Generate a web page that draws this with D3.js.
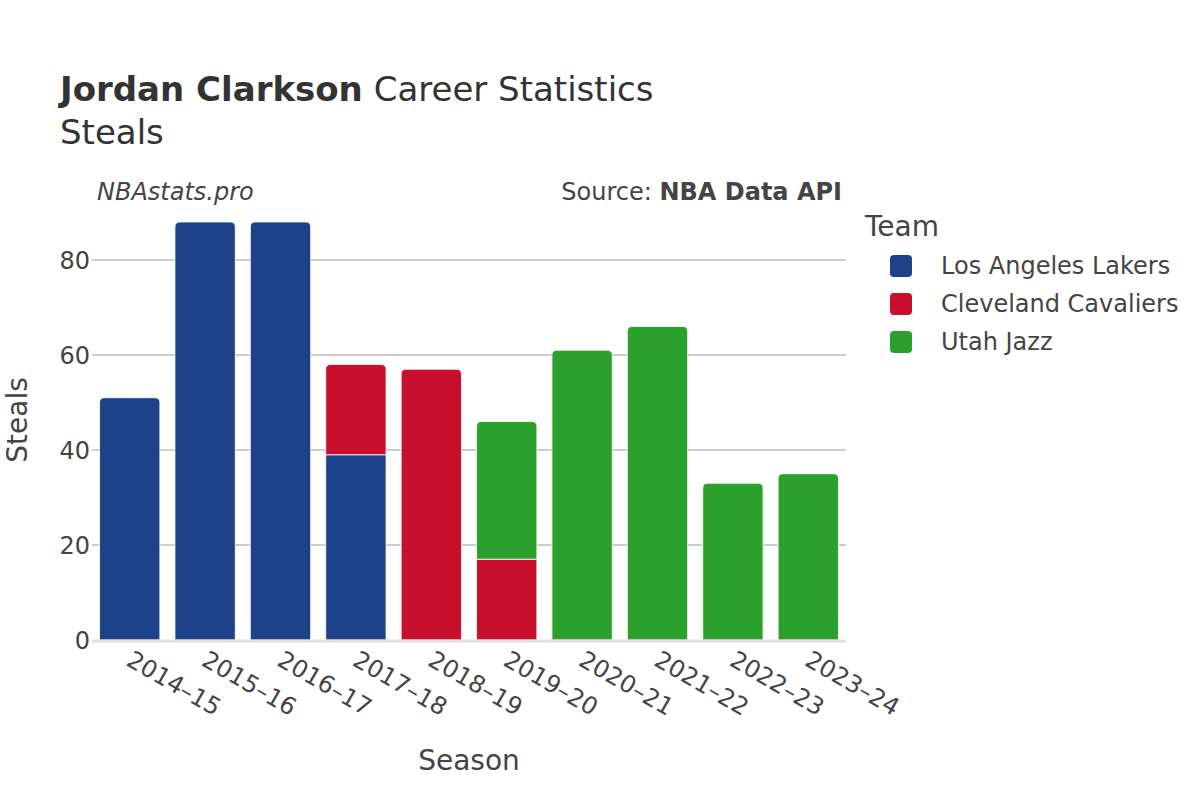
<!DOCTYPE html>
<html><head><meta charset="utf-8">
<script src="https://cdn.jsdelivr.net/npm/d3@7"></script>
<style>body{margin:0;background:#fff}svg{font-family:"DejaVu Sans",sans-serif}</style>
</head><body><svg id="c" width="1200" height="800"></svg>
<script>
const seasons = ["2014–15","2015–16","2016–17","2017–18","2018–19","2019–20","2020–21","2021–22","2022–23","2023–24"];
const teams = ["Los Angeles Lakers","Cleveland Cavaliers","Utah Jazz"];
const teamColors = ["#1d428a","#c8102e","#2ca02c"];
const lakers    = [51, 88, 88, 39, 0, 0, 0, 0, 0, 0];
const cavaliers = [0, 0, 0, 19, 57, 17, 0, 0, 0, 0];
const jazz      = [0, 0, 0, 0, 0, 29, 61, 66, 33, 35];
const yTicks = [0, 20, 40, 60, 80];

const svg = d3.select("#c");
const x = d3.scaleBand().domain(seasons).range([92, 846]).paddingInner(0.2).paddingOuter(0.1);
const y = d3.scaleLinear().domain([0, 92.63]).range([640, 200]);
const color = d3.scaleOrdinal().domain(teams).range(teamColors);

// gridlines
svg.append("g").selectAll("line").data(yTicks.filter(d=>d>0)).join("line")
  .attr("x1", 92).attr("x2", 846).attr("y1", d=>y(d)).attr("y2", d=>y(d))
  .attr("stroke", "#bdbdbd").attr("stroke-width", 1.5);

// stacked data
const rows = seasons.map((s,i)=>({season:s, "Los Angeles Lakers":lakers[i], "Cleveland Cavaliers":cavaliers[i], "Utah Jazz":jazz[i]}));
const stack = d3.stack().keys(teams)(rows);
const r = 5;
function barPath(x0, w, yTop, yBot, rounded){
  if(!rounded) return `M${x0},${yBot}V${yTop}H${x0+w}V${yBot}Z`;
  const rr = Math.min(r, (yBot-yTop));
  return `M${x0},${yBot}V${yTop+rr}Q${x0},${yTop} ${x0+rr},${yTop}H${x0+w-rr}Q${x0+w},${yTop} ${x0+w},${yTop+rr}V${yBot}Z`;
}
const g = svg.append("g");
stack.forEach((layer, li)=>{
  layer.forEach((d, i)=>{
    if(d[1]-d[0] <= 0) return;
    let isTop = true;
    for(let k=li+1;k<stack.length;k++){ if(stack[k][i][1]-stack[k][i][0]>0) isTop=false; }
    g.append("path")
      .attr("d", barPath(x(seasons[i]), x.bandwidth(), y(d[1]), y(d[0]), isTop))
      .attr("fill", color(teams[li]))
      .attr("stroke", "#fff").attr("stroke-width", 0.8);
  });
});

// x axis baseline
svg.append("line").attr("x1", 92).attr("x2", 846).attr("y1", 641).attr("y2", 641)
  .attr("stroke", "#e0e0e0").attr("stroke-width", 3);

// y axis labels
const yAxis = d3.axisLeft(y).tickValues(yTicks).tickSize(0).tickPadding(0);
const ya = svg.append("g").attr("transform","translate(90,0)").call(yAxis);
ya.select(".domain").remove();
ya.selectAll("text").attr("font-size", 24).attr("fill", "#444").attr("font-family","DejaVu Sans, sans-serif").attr("dy","0.35em");

// x axis labels
const xAxis = d3.axisBottom(x).tickSize(0).tickPadding(0);
const xa = svg.append("g").attr("transform","translate(0,650)").call(xAxis);
xa.select(".domain").remove();
xa.selectAll("text").attr("font-size", 24).attr("fill", "#444").attr("font-family","DejaVu Sans, sans-serif")
  .attr("text-anchor","start").attr("dy","0.75em").attr("x", -2).attr("y", 0)
  .attr("transform","translate(6,0) rotate(30)");

// titles
const title = svg.append("text").attr("x", 60).attr("y", 101).attr("font-size", 34).attr("fill", "#333");
title.append("tspan").attr("font-weight","bold").text("Jordan Clarkson");
title.append("tspan").text(" Career Statistics");
svg.append("text").attr("x", 60).attr("y", 144).attr("font-size", 34).attr("fill", "#333").text("Steals");
svg.append("text").attr("x", 97).attr("y", 200).attr("font-size", 24).attr("font-style","italic").attr("fill", "#444").text("NBAstats.pro");
const src = svg.append("text").attr("x", 842).attr("y", 200).attr("font-size", 24).attr("text-anchor","end").attr("fill", "#444");
src.append("tspan").text("Source: ");
src.append("tspan").attr("font-weight","bold").text("NBA Data API");

// axis titles
svg.append("text").attr("x", 469).attr("y", 770).attr("font-size", 28).attr("text-anchor","middle").attr("fill","#444").text("Season");
svg.append("text").attr("transform","translate(17,420) rotate(-90)").attr("font-size", 28).attr("text-anchor","middle").attr("dy","0.35em").attr("fill","#444").text("Steals");

// legend
svg.append("text").attr("x", 865).attr("y", 236).attr("font-size", 28).attr("fill","#444").text("Team");
const lg = svg.append("g").selectAll("g").data(teams).join("g")
  .attr("transform",(d,i)=>`translate(0,${266 + i*38})`);
lg.append("rect").attr("x", 890).attr("y", -11).attr("width", 22).attr("height", 22).attr("rx", 4)
  .attr("fill", d=>color(d));
lg.append("text").attr("x", 941).attr("y", 0).attr("dy","0.35em").attr("font-size", 24).attr("fill","#444").text(d=>d);
</script></body></html>
